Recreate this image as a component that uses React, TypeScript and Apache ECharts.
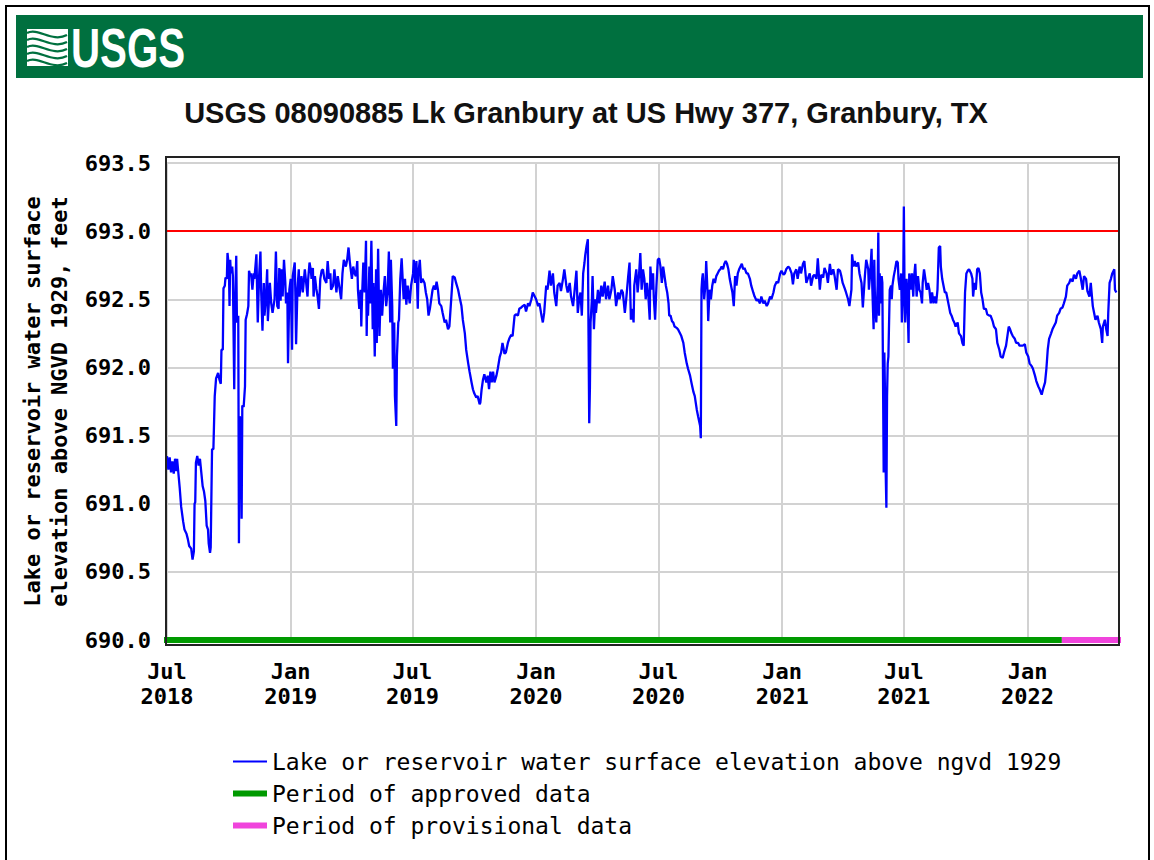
import React, { useEffect, useRef } from 'react';
import * as echarts from 'echarts';

const TITLE = 'USGS 08090885 Lk Granbury at US Hwy 377, Granbury, TX';
const S_ELEV = 'Lake or reservoir water surface elevation above ngvd 1929';
const S_APPROVED = 'Period of approved data';
const S_PROVISIONAL = 'Period of provisional data';
const Y_NAME = 'Lake or reservoir water surface\nelevation above NGVD 1929, feet';

const xTickDates = ['2018-07-01', '2019-01-01', '2019-07-01', '2020-01-01', '2020-07-01', '2021-01-01', '2021-07-01', '2022-01-01'];
const xTickMonths = [0, 6]; // Jan and Jul labels
const monthNames = ['Jan', 'Feb', 'Mar', 'Apr', 'May', 'Jun', 'Jul', 'Aug', 'Sep', 'Oct', 'Nov', 'Dec'];
const X_MIN = '2018-07-01';
const X_MAX = '2022-05-17';
const Y_MIN = 690.0;
const Y_MAX = 693.5;
const Y_STEP = 0.5;
const FLOOD_LEVEL = 693.0;

const approvedPeriod: [string, number][] = [['2018-06-24', 690.0], ['2022-02-21', 690.0]];
const provisionalPeriod: [string, number][] = [['2022-02-21', 690.0], ['2022-05-20', 690.0]];

const elev2018: [string, number][] = [
  ['2018-07-01',691.35],['2018-07-03',691.25],['2018-07-05',691.34],['2018-07-07',691.23],['2018-07-09',691.31],['2018-07-11',691.22],['2018-07-13',691.33],['2018-07-15',691.24],['2018-07-16',691.33],['2018-07-18',691.22],['2018-07-20',691.11],['2018-07-22',690.98],['2018-07-25',690.87],['2018-07-27',690.81],['2018-07-30',690.78],
  ['2018-08-01',690.74],['2018-08-03',690.69],['2018-08-06',690.67],['2018-08-08',690.59],['2018-08-10',690.65],['2018-08-11',691.00],['2018-08-12',691.01],['2018-08-13',691.30],['2018-08-15',691.35],['2018-08-17',691.28],['2018-08-19',691.33],['2018-08-21',691.23],['2018-08-23',691.13],['2018-08-25',691.09],['2018-08-27',691.02],['2018-08-29',690.84],['2018-08-31',690.81],
  ['2018-09-01',690.71],['2018-09-03',690.64],['2018-09-04',690.68],['2018-09-06',691.40],['2018-09-08',691.40],['2018-09-10',691.79],['2018-09-12',691.92],['2018-09-15',691.96],['2018-09-17',691.91],['2018-09-19',691.88],['2018-09-20',692.13],['2018-09-22',692.13],['2018-09-23',692.58],['2018-09-25',692.60],['2018-09-26',692.66],['2018-09-28',692.65],['2018-09-29',692.84],
  ['2018-10-01',692.74],['2018-10-02',692.45],['2018-10-03',692.79],['2018-10-04',692.69],['2018-10-06',692.74],['2018-10-07',692.67],['2018-10-09',691.84],['2018-10-10',692.40],['2018-10-12',692.82],['2018-10-13',692.33],['2018-10-15',692.38],['2018-10-16',690.71],['2018-10-17',691.64],['2018-10-19',691.62],['2018-10-20',690.89],['2018-10-21',691.72],['2018-10-23',691.71],['2018-10-25',691.86],['2018-10-26',692.35],['2018-10-28',692.39],['2018-10-30',692.45],['2018-10-31',692.71],
  ['2018-11-02',692.67],['2018-11-03',692.69],['2018-11-05',692.57],['2018-11-07',692.69],['2018-11-08',692.65],['2018-11-11',692.83],['2018-11-12',692.57],['2018-11-13',692.33],['2018-11-15',692.67],['2018-11-17',692.85],['2018-11-18',692.57],['2018-11-20',692.27],['2018-11-22',692.62],['2018-11-23',692.38],['2018-11-25',692.50],['2018-11-27',692.72],['2018-11-28',692.34],['2018-11-30',692.52],
  ['2018-12-01',692.62],['2018-12-03',692.47],['2018-12-05',692.40],['2018-12-08',692.50],['2018-12-10',692.85],['2018-12-12',692.45],['2018-12-14',692.43],['2018-12-15',692.73],['2018-12-17',692.49],['2018-12-18',692.72],['2018-12-20',692.52],['2018-12-22',692.79],['2018-12-24',692.62],['2018-12-25',692.47],['2018-12-27',692.55],['2018-12-28',692.03],['2018-12-30',692.57]
];

const elev2019: [string, number][] = [
  ['2019-01-01',692.65],['2019-01-03',692.13],['2019-01-04',692.67],['2019-01-07',692.77],['2019-01-08',692.52],['2019-01-09',692.17],['2019-01-11',692.57],['2019-01-13',692.72],['2019-01-14',692.52],['2019-01-17',692.67],['2019-01-19',692.55],['2019-01-22',692.72],['2019-01-24',692.62],['2019-01-26',692.52],['2019-01-27',692.65],['2019-01-29',692.77],['2019-01-31',692.71],
  ['2019-02-01',692.65],['2019-02-03',692.73],['2019-02-04',692.52],['2019-02-06',692.67],['2019-02-08',692.58],['2019-02-10',692.52],['2019-02-12',692.43],['2019-02-14',692.65],['2019-02-16',692.71],['2019-02-18',692.72],['2019-02-20',692.65],['2019-02-23',692.62],['2019-02-25',692.78],['2019-02-27',692.65],
  ['2019-03-01',692.69],['2019-03-02',692.57],['2019-03-05',692.60],['2019-03-07',692.72],['2019-03-10',692.55],['2019-03-12',692.67],['2019-03-15',692.57],['2019-03-17',692.50],['2019-03-19',692.69],['2019-03-21',692.79],['2019-03-24',692.74],['2019-03-26',692.79],['2019-03-28',692.88],['2019-03-30',692.77],
  ['2019-04-01',692.69],['2019-04-02',692.65],['2019-04-04',692.74],['2019-04-06',692.69],['2019-04-08',692.67],['2019-04-10',692.78],['2019-04-11',692.57],['2019-04-13',692.43],['2019-04-15',692.57],['2019-04-16',692.30],['2019-04-17',692.50],['2019-04-19',692.77],['2019-04-21',692.55],['2019-04-23',692.93],['2019-04-24',692.23],['2019-04-25',692.57],['2019-04-26',692.38],['2019-04-28',692.74],['2019-04-29',692.47],
  ['2019-05-01',692.93],['2019-05-03',692.28],['2019-05-04',692.62],['2019-05-06',692.08],['2019-05-08',692.72],['2019-05-09',692.18],['2019-05-11',692.87],['2019-05-13',692.23],['2019-05-15',692.57],['2019-05-17',692.38],['2019-05-19',692.55],['2019-05-21',692.67],['2019-05-23',692.45],['2019-05-25',692.55],['2019-05-27',692.85],['2019-05-29',692.33],['2019-05-30',692.79],
  ['2019-06-01',692.45],['2019-06-02',691.99],['2019-06-04',692.33],['2019-06-05',691.79],['2019-06-07',691.57],['2019-06-08',692.08],['2019-06-10',692.33],['2019-06-11',692.35],['2019-06-12',692.50],['2019-06-13',692.65],['2019-06-15',692.80],['2019-06-17',692.60],['2019-06-18',692.50],['2019-06-20',692.65],['2019-06-22',692.46],['2019-06-24',692.60],['2019-06-27',692.47],['2019-06-29',692.60],
  ['2019-07-02',692.69],['2019-07-03',692.79],['2019-07-05',692.62],['2019-07-07',692.78],['2019-07-09',692.43],['2019-07-10',692.69],['2019-07-12',692.79],['2019-07-14',692.62],['2019-07-16',692.65],['2019-07-19',692.62],['2019-07-21',692.55],['2019-07-23',692.50],['2019-07-25',692.38],['2019-07-27',692.43],['2019-07-29',692.50],['2019-07-31',692.57],
  ['2019-08-02',692.60],['2019-08-04',692.57],['2019-08-06',692.63],['2019-08-08',692.57],['2019-08-10',692.47],['2019-08-13',692.45],['2019-08-15',692.40],['2019-08-18',692.33],['2019-08-20',692.35],['2019-08-23',692.28],['2019-08-25',692.30],['2019-08-28',692.52],['2019-08-30',692.67],
  ['2019-09-02',692.66],['2019-09-04',692.62],['2019-09-07',692.57],['2019-09-09',692.52],['2019-09-12',692.45],['2019-09-14',692.35],['2019-09-17',692.25],['2019-09-19',692.13],['2019-09-22',692.03],['2019-09-24',691.97],['2019-09-27',691.89],['2019-09-29',691.84],
  ['2019-10-01',691.81],['2019-10-04',691.78],['2019-10-06',691.79],['2019-10-09',691.73],['2019-10-10',691.74],['2019-10-12',691.84],['2019-10-14',691.91],['2019-10-16',691.95],['2019-10-19',691.89],['2019-10-21',691.94],['2019-10-23',691.84],['2019-10-25',691.97],['2019-10-27',691.89],['2019-10-29',691.97],['2019-10-31',691.89],
  ['2019-11-03',691.94],['2019-11-05',691.99],['2019-11-08',692.08],['2019-11-10',692.11],['2019-11-12',692.18],['2019-11-15',692.10],['2019-11-17',692.11],['2019-11-20',692.18],['2019-11-22',692.21],['2019-11-25',692.24],['2019-11-27',692.23],['2019-11-30',692.38],
  ['2019-12-02',692.39],['2019-12-05',692.38],['2019-12-07',692.43],['2019-12-10',692.44],['2019-12-12',692.45],['2019-12-15',692.46],['2019-12-17',692.41],['2019-12-20',692.47],['2019-12-22',692.45],['2019-12-25',692.50],['2019-12-27',692.55],['2019-12-30',692.52]
];

const elev2020: [string, number][] = [
  ['2020-01-01',692.50],['2020-01-04',692.45],['2020-01-06',692.47],['2020-01-09',692.38],['2020-01-11',692.33],['2020-01-13',692.40],['2020-01-16',692.60],['2020-01-18',692.57],['2020-01-21',692.71],['2020-01-23',692.60],['2020-01-26',692.69],['2020-01-28',692.55],['2020-01-31',692.45],
  ['2020-02-02',692.60],['2020-02-05',692.62],['2020-02-07',692.56],['2020-02-10',692.65],['2020-02-12',692.72],['2020-02-15',692.60],['2020-02-17',692.55],['2020-02-20',692.62],['2020-02-22',692.52],['2020-02-25',692.45],['2020-02-27',692.55],
  ['2020-03-01',692.71],['2020-03-03',692.40],['2020-03-05',692.50],['2020-03-07',692.55],['2020-03-09',692.38],['2020-03-11',692.69],['2020-03-13',692.77],['2020-03-14',692.82],['2020-03-16',692.89],['2020-03-18',692.94],['2020-03-19',692.23],['2020-03-20',691.59],['2020-03-21',691.84],['2020-03-22',692.33],['2020-03-24',692.50],['2020-03-25',692.67],['2020-03-27',692.28],['2020-03-29',692.50],['2020-03-30',692.40],
  ['2020-04-02',692.57],['2020-04-04',692.47],['2020-04-07',692.60],['2020-04-09',692.52],['2020-04-12',692.63],['2020-04-14',692.50],['2020-04-17',692.60],['2020-04-19',692.50],['2020-04-22',692.57],['2020-04-24',692.67],['2020-04-27',692.57],['2020-04-29',692.45],
  ['2020-05-02',692.55],['2020-05-04',692.50],['2020-05-07',692.57],['2020-05-09',692.55],['2020-05-12',692.40],['2020-05-14',692.50],['2020-05-17',692.67],['2020-05-19',692.77],['2020-05-21',692.35],['2020-05-23',692.43],['2020-05-25',692.33],['2020-05-26',692.60],['2020-05-29',692.72],['2020-05-31',692.55],
  ['2020-06-02',692.67],['2020-06-04',692.84],['2020-06-06',692.57],['2020-06-08',692.72],['2020-06-10',692.65],['2020-06-12',692.50],['2020-06-14',692.62],['2020-06-16',692.52],['2020-06-18',692.35],['2020-06-19',692.74],['2020-06-21',692.57],['2020-06-23',692.69],['2020-06-24',692.52],['2020-06-26',692.35],['2020-06-28',692.60],['2020-06-30',692.79],
  ['2020-07-02',692.80],['2020-07-04',692.74],['2020-07-06',692.62],['2020-07-08',692.74],['2020-07-10',692.67],['2020-07-12',692.60],['2020-07-14',692.55],['2020-07-16',692.47],['2020-07-17',692.38],['2020-07-19',692.38],['2020-07-21',692.34],['2020-07-23',692.33],['2020-07-25',692.30],['2020-07-28',692.29],['2020-07-30',692.28],
  ['2020-08-02',692.25],['2020-08-04',692.23],['2020-08-07',692.18],['2020-08-09',692.11],['2020-08-12',692.03],['2020-08-14',691.99],['2020-08-17',691.94],['2020-08-19',691.89],['2020-08-22',691.82],['2020-08-24',691.79],['2020-08-27',691.69],['2020-08-29',691.64],
  ['2020-09-01',691.57],['2020-09-02',691.48],['2020-09-03',692.57],['2020-09-04',692.65],['2020-09-05',692.69],['2020-09-07',692.50],['2020-09-09',692.62],['2020-09-10',692.78],['2020-09-12',692.55],['2020-09-13',692.34],['2020-09-15',692.57],['2020-09-17',692.50],['2020-09-19',692.60],['2020-09-21',692.65],['2020-09-23',692.62],['2020-09-25',692.67],['2020-09-27',692.69],['2020-09-29',692.71],
  ['2020-10-01',692.72],['2020-10-03',692.74],['2020-10-05',692.72],['2020-10-07',692.76],['2020-10-09',692.78],['2020-10-11',692.76],['2020-10-13',692.72],['2020-10-15',692.65],['2020-10-17',692.60],['2020-10-19',692.55],['2020-10-21',692.45],['2020-10-23',692.67],['2020-10-25',692.60],['2020-10-27',692.69],['2020-10-29',692.72],['2020-10-31',692.74],
  ['2020-11-02',692.76],['2020-11-04',692.72],['2020-11-06',692.73],['2020-11-09',692.69],['2020-11-11',692.69],['2020-11-14',692.65],['2020-11-16',692.60],['2020-11-19',692.55],['2020-11-21',692.52],['2020-11-24',692.49],['2020-11-26',692.50],['2020-11-29',692.47],
  ['2020-12-01',692.52],['2020-12-04',692.47],['2020-12-06',692.49],['2020-12-09',692.45],['2020-12-11',692.47],['2020-12-14',692.52],['2020-12-16',692.50],['2020-12-19',692.55],['2020-12-21',692.60],['2020-12-24',692.63],['2020-12-26',692.62],['2020-12-29',692.69],['2020-12-31',692.71]
];

const elev2021: [string, number][] = [
  ['2021-01-03',692.68],['2021-01-05',692.69],['2021-01-07',692.72],['2021-01-10',692.74],['2021-01-12',692.73],['2021-01-15',692.69],['2021-01-17',692.61],['2021-01-19',692.69],['2021-01-22',692.72],['2021-01-24',692.65],['2021-01-27',692.74],['2021-01-29',692.69],
  ['2021-02-01',692.76],['2021-02-03',692.78],['2021-02-06',692.62],['2021-02-08',692.65],['2021-02-11',692.69],['2021-02-13',692.60],['2021-02-16',692.67],['2021-02-18',692.68],['2021-02-21',692.65],['2021-02-23',692.80],['2021-02-26',692.57],['2021-02-28',692.68],
  ['2021-03-03',692.66],['2021-03-05',692.73],['2021-03-08',692.69],['2021-03-10',692.62],['2021-03-13',692.76],['2021-03-15',692.68],['2021-03-18',692.72],['2021-03-20',692.67],['2021-03-23',692.57],['2021-03-25',692.72],['2021-03-28',692.71],['2021-03-30',692.67],
  ['2021-04-01',692.62],['2021-04-04',692.58],['2021-04-06',692.55],['2021-04-09',692.50],['2021-04-11',692.45],['2021-04-14',692.57],['2021-04-15',692.83],['2021-04-17',692.74],['2021-04-19',692.78],['2021-04-21',692.74],['2021-04-24',692.77],['2021-04-26',692.69],['2021-04-29',692.62],
  ['2021-05-01',692.44],['2021-05-04',692.67],['2021-05-06',692.79],['2021-05-09',692.72],['2021-05-10',692.57],['2021-05-12',692.69],['2021-05-14',692.87],['2021-05-15',692.60],['2021-05-17',692.28],['2021-05-18',692.79],['2021-05-19',692.50],['2021-05-21',692.33],['2021-05-23',692.60],['2021-05-24',692.99],['2021-05-25',692.38],['2021-05-26',692.69],['2021-05-28',692.47],['2021-05-29',692.67],['2021-05-30',692.62],
  ['2021-06-01',691.23],['2021-06-02',692.11],['2021-06-03',691.79],['2021-06-04',691.23],['2021-06-05',690.97],['2021-06-06',691.79],['2021-06-07',692.03],['2021-06-08',692.08],['2021-06-09',692.33],['2021-06-10',692.57],['2021-06-12',692.60],['2021-06-13',692.50],['2021-06-14',692.60],['2021-06-16',692.67],['2021-06-18',692.72],['2021-06-20',692.78],['2021-06-22',692.77],['2021-06-23',692.65],['2021-06-25',692.57],['2021-06-27',692.69],['2021-06-28',692.33],['2021-06-30',692.57],
  ['2021-07-01',693.18],['2021-07-02',692.57],['2021-07-03',692.33],['2021-07-05',692.65],['2021-07-06',692.57],['2021-07-08',692.18],['2021-07-09',692.69],['2021-07-11',692.57],['2021-07-13',692.69],['2021-07-15',692.52],['2021-07-16',692.65],['2021-07-18',692.76],['2021-07-20',692.52],['2021-07-22',692.67],['2021-07-24',692.57],['2021-07-26',692.55],['2021-07-28',692.47],['2021-07-29',692.62],['2021-07-31',692.72],
  ['2021-08-02',692.65],['2021-08-04',692.57],['2021-08-06',692.62],['2021-08-08',692.57],['2021-08-10',692.47],['2021-08-12',692.55],['2021-08-14',692.47],['2021-08-16',692.52],['2021-08-18',692.47],['2021-08-20',692.57],['2021-08-22',692.88],['2021-08-24',692.89],['2021-08-25',692.74],['2021-08-27',692.65],['2021-08-29',692.60],['2021-08-31',692.55],
  ['2021-09-02',692.55],['2021-09-04',692.50],['2021-09-06',692.45],['2021-09-08',692.40],['2021-09-10',692.38],['2021-09-12',692.35],['2021-09-14',692.33],['2021-09-16',692.30],['2021-09-19',692.33],['2021-09-21',692.25],['2021-09-24',692.23],['2021-09-26',692.18],['2021-09-28',692.16],['2021-09-30',692.55],
  ['2021-10-02',692.69],['2021-10-04',692.71],['2021-10-06',692.72],['2021-10-09',692.69],['2021-10-11',692.65],['2021-10-12',692.52],['2021-10-14',692.62],['2021-10-16',692.57],['2021-10-18',692.72],['2021-10-20',692.73],['2021-10-22',692.69],['2021-10-24',692.55],['2021-10-26',692.50],['2021-10-28',692.43],['2021-10-31',692.43],
  ['2021-11-02',692.39],['2021-11-05',692.38],['2021-11-07',692.38],['2021-11-10',692.34],['2021-11-12',692.30],['2021-11-15',692.28],['2021-11-17',692.18],['2021-11-20',692.13],['2021-11-22',692.08],['2021-11-25',692.07],['2021-11-27',692.11],['2021-11-30',692.16],
  ['2021-12-02',692.23],['2021-12-04',692.30],['2021-12-06',692.28],['2021-12-08',692.25],['2021-12-10',692.23],['2021-12-13',692.21],['2021-12-15',692.18],['2021-12-18',692.18],['2021-12-20',692.16],['2021-12-23',692.16],['2021-12-25',692.16],['2021-12-28',692.17],['2021-12-30',692.11]
];

const elev2022: [string, number][] = [
  ['2022-01-02',692.08],['2022-01-04',692.03],['2022-01-07',692.01],['2022-01-09',691.99],['2022-01-12',691.94],['2022-01-14',691.90],['2022-01-17',691.86],['2022-01-19',691.84],['2022-01-22',691.80],['2022-01-24',691.84],['2022-01-27',691.89],['2022-01-29',691.99],['2022-01-31',692.13],
  ['2022-02-02',692.21],['2022-02-05',692.25],['2022-02-07',692.28],['2022-02-09',692.30],['2022-02-12',692.33],['2022-02-14',692.38],['2022-02-17',692.40],['2022-02-19',692.43],['2022-02-22',692.44],['2022-02-24',692.47],['2022-02-27',692.52],
  ['2022-03-01',692.60],['2022-03-04',692.62],['2022-03-06',692.65],['2022-03-09',692.63],['2022-03-11',692.68],['2022-03-14',692.65],['2022-03-16',692.69],['2022-03-19',692.71],['2022-03-21',692.66],['2022-03-24',692.57],['2022-03-26',692.67],['2022-03-29',692.65],['2022-03-31',692.56],
  ['2022-04-03',692.52],['2022-04-05',692.62],['2022-04-08',692.45],['2022-04-10',692.40],['2022-04-12',692.35],['2022-04-15',692.38],['2022-04-17',692.33],['2022-04-20',692.28],['2022-04-22',692.18],['2022-04-23',692.30],['2022-04-26',692.35],['2022-04-28',692.28],['2022-04-30',692.23],
  ['2022-05-01',692.40],['2022-05-03',692.62],['2022-05-05',692.65],['2022-05-07',692.69],['2022-05-10',692.72],['2022-05-11',692.57],['2022-05-13',692.55]
];

const MONO = "'DejaVu Sans Mono', 'Liberation Mono', monospace";
const SANS = "'Liberation Sans', Arial, sans-serif";
const GREEN_BANNER = '#00703F';
const GRID_GRAY = '#d2d2d2';

function isTickDate(v: number) {
  const d = new Date(v);
  return d.getDate() === 1 && d.getHours() === 0 && xTickMonths.indexOf(d.getMonth()) >= 0;
}

function buildOption() {
  const elevation = [...elev2018, ...elev2019, ...elev2020, ...elev2021, ...elev2022];

  const waves: any[] = [];
  for (let i = 0; i < 5; i++) {
    const y0 = 33 + i * 7;
    waves.push({
      type: 'bezierCurve',
      shape: { x1: 27, y1: y0, cpx1: 38, cpy1: y0 - 6, cpx2: 52, cpy2: y0 + 10, x2: 67, y2: y0 + 2 },
      style: { stroke: GREEN_BANNER, lineWidth: 2.2, fill: null },
      z: 2,
    });
  }

  return {
    animation: false,
    backgroundColor: '#ffffff',
    grid: { left: 167, right: 35, top: 163, bottom: 220, containLabel: false },
    graphic: [
      { type: 'rect', shape: { x: 6, y: 6, width: 1143, height: 900 }, style: { stroke: '#000', lineWidth: 2, fill: null }, z: 1 },
      { type: 'rect', shape: { x: 16, y: 15, width: 1127, height: 63 }, style: { fill: GREEN_BANNER }, z: 1 },
      { type: 'rect', shape: { x: 27, y: 29, width: 41, height: 37 }, style: { fill: '#ffffff' }, z: 1 },
      ...waves,
      {
        type: 'text', x: 71, y: 47, scaleX: 0.72, z: 2,
        style: { text: 'USGS', fill: '#ffffff', font: `bold 56px ${SANS}`, textAlign: 'left', textVerticalAlign: 'middle' },
      },
      {
        type: 'text', x: 586, y: 113, z: 2,
        style: { text: TITLE, fill: '#111111', font: `bold 29px ${SANS}`, textAlign: 'center', textVerticalAlign: 'middle' },
      },
      { type: 'rect', shape: { x: 166, y: 157, width: 953, height: 488 }, style: { stroke: '#222', lineWidth: 2, fill: null }, z: 50 },
    ],
    legend: {
      orient: 'vertical',
      left: 228,
      top: 745,
      itemWidth: 34,
      itemHeight: 6,
      itemGap: 9,
      selectedMode: false,
      textStyle: { fontFamily: MONO, fontSize: 23, color: '#000', lineHeight: 23 },
      data: [
        { name: S_ELEV, icon: 'path://M0 0 H34 V2 H0 Z' },
        { name: S_APPROVED, icon: 'rect' },
        { name: S_PROVISIONAL, icon: 'rect' },
      ],
    },
    xAxis: {
      type: 'time',
      min: X_MIN,
      max: X_MAX,
      axisLine: { show: false },
      axisTick: { show: false },
      splitLine: { show: false },
      axisLabel: {
        margin: 19,
        fontFamily: MONO,
        fontWeight: 'bold',
        fontSize: 22,
        lineHeight: 25,
        color: '#000',
        hideOverlap: false,
        formatter: (v: number) => {
          if (!isTickDate(v)) return '';
          const d = new Date(v);
          return monthNames[d.getMonth()] + '\n' + d.getFullYear();
        },
      },
    },
    yAxis: {
      type: 'value',
      min: Y_MIN,
      max: Y_MAX,
      interval: Y_STEP,
      name: Y_NAME,
      nameLocation: 'middle',
      nameRotate: 90,
      nameGap: 94,
      nameTextStyle: { fontFamily: MONO, fontWeight: 'bold', fontSize: 22, lineHeight: 27, color: '#000' },
      axisLine: { show: false },
      axisTick: { show: false },
      splitLine: { show: true, lineStyle: { color: GRID_GRAY, width: 2 } },
      axisLabel: {
        margin: 16,
        fontFamily: MONO,
        fontWeight: 'bold',
        fontSize: 22,
        color: '#000',
        formatter: (v: number) => v.toFixed(1),
      },
    },
    series: [
      {
        name: 'x-grid',
        type: 'line',
        data: [],
        symbol: 'none',
        silent: true,
        z: 1,
        markLine: {
          silent: true,
          z: 1,
          symbol: ['none', 'none'],
          label: { show: false },
          lineStyle: { color: GRID_GRAY, width: 2, type: 'solid' },
          data: xTickDates.map((d) => ({ xAxis: d })),
        },
      },
      {
        name: S_ELEV,
        type: 'line',
        data: elevation,
        symbol: 'none',
        color: '#0000ff',
        itemStyle: { color: '#0000ff' },
        lineStyle: { color: '#0000ff', width: 2.3 },
        z: 3,
        markLine: {
          silent: true,
          z: 2,
          symbol: ['none', 'none'],
          label: { show: false },
          lineStyle: { color: '#ff0000', width: 2, type: 'solid' },
          data: [{ yAxis: FLOOD_LEVEL }],
        },
      },
      {
        name: S_APPROVED,
        type: 'line',
        data: approvedPeriod,
        symbol: 'none',
        clip: false,
        color: '#009a00',
        itemStyle: { color: '#009a00' },
        lineStyle: { color: '#009a00', width: 6 },
        z: 4,
      },
      {
        name: S_PROVISIONAL,
        type: 'line',
        data: provisionalPeriod,
        symbol: 'none',
        clip: false,
        color: '#f044dc',
        itemStyle: { color: '#f044dc' },
        lineStyle: { color: '#f044dc', width: 6 },
        z: 4,
      },
    ],
  };
}

export default function App() {
  const ref = useRef<HTMLDivElement>(null);
  useEffect(() => {
    if (!ref.current) return;
    const chart = echarts.init(ref.current, null, { renderer: 'svg' });
    chart.setOption(buildOption() as any);
    return () => chart.dispose();
  }, []);
  return (
    <div
      ref={ref}
      style={{ position: 'absolute', left: 0, top: 0, width: 1154, height: 860, background: '#fff' }}
    />
  );
}
